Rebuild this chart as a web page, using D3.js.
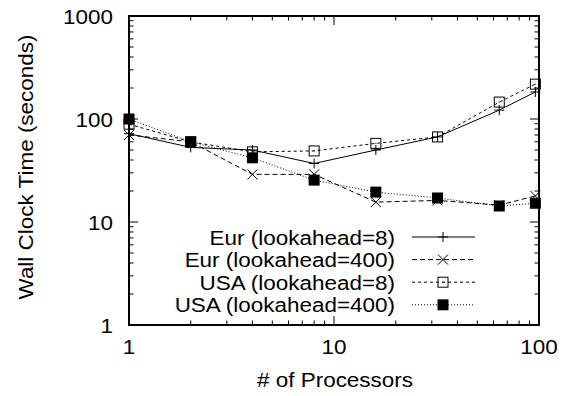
<!DOCTYPE html>
<html><head><meta charset="utf-8">
<script src="https://cdn.jsdelivr.net/npm/d3@7"></script>
<style>body{margin:0;background:#fff}svg{display:block}text{font-family:"Liberation Sans",Arial,sans-serif;fill:#000}</style>
</head><body><svg id="c" width="566" height="396"></svg>
<script>
const processors = [1, 2, 4, 8, 16, 32, 64, 96];
const eurLook8   = [72, 53, 50, 37, 50, 67, 122, 183];
const eurLook400 = [70, 60, 29, 29, 15.6, 16.2, 14.6, 17.9];
const usaLook8   = [89, 60, 48, 49, 58, 67, 146, 218];
const usaLook400 = [100, 60, 42, 25.5, 19.5, 17.1, 14.3, 15.2];
const xTicks = [1, 10, 100];
const yTicks = [1, 10, 100, 1000];
const seriesNames = ["Eur (lookahead=8)", "Eur (lookahead=400)", "USA (lookahead=8)", "USA (lookahead=400)"];

const svg = d3.select("#c");
const m = {l:129, r:539, t:16, b:325};
const x = d3.scaleLog().domain([1,100]).range([m.l, m.r]);
const y = d3.scaleLog().domain([1,1000]).range([m.b, m.t]);
const fs = 21, sx = 1.07;

function label(g, px, py, str, anchor, rot) {
  return g.append("text")
    .attr("transform", `translate(${px},${py})` + (rot ? ` rotate(${rot})` : "") + ` scale(${sx},1)`)
    .attr("text-anchor", anchor).attr("font-size", fs).text(str);
}

const series = [
  {name: seriesNames[0], vals: eurLook8, dash: null, mark: "plus"},
  {name: seriesNames[1], vals: eurLook400, dash: "5,3", mark: "cross"},
  {name: seriesNames[2], vals: usaLook8, dash: "3,3", mark: "open"},
  {name: seriesNames[3], vals: usaLook400, dash: "1,2", mark: "filled"}
];

function drawMark(g, type, cx, cy) {
  if (type === "plus") {
    g.append("path").attr("d", `M${cx-5},${cy}H${cx+5}M${cx},${cy-5}V${cy+5}`).attr("stroke","#000").attr("stroke-width",1);
  } else if (type === "cross") {
    g.append("path").attr("d", `M${cx-5},${cy-5}L${cx+5},${cy+5}M${cx-5},${cy+5}L${cx+5},${cy-5}`).attr("stroke","#000").attr("stroke-width",1);
  } else if (type === "open") {
    g.append("rect").attr("x",cx-5).attr("y",cy-5).attr("width",10).attr("height",10).attr("fill","none").attr("stroke","#000").attr("stroke-width",1);
    g.append("rect").attr("x",cx-0.5).attr("y",cy-0.5).attr("width",1).attr("height",1).attr("fill","#000");
  } else {
    g.append("rect").attr("x",cx-5.5).attr("y",cy-5.5).attr("width",11).attr("height",11).attr("fill","#000");
  }
}

// ticks
const tg = svg.append("g").attr("stroke","#000").attr("stroke-width",1);
function minorVals(dom) {
  const out = [];
  for (let d = dom[0]; d < dom[1]; d *= 10) for (let k = 1; k < 10; k++) out.push(d*k);
  out.push(dom[1]);
  return out;
}
minorVals(x.domain()).forEach(v => {
  const major = Math.abs(Math.log10(v) - Math.round(Math.log10(v))) < 1e-9;
  const len = major ? 9 : 4.5;
  const px = x(v);
  tg.append("line").attr("x1",px).attr("x2",px).attr("y1",m.b).attr("y2",m.b-len);
  tg.append("line").attr("x1",px).attr("x2",px).attr("y1",m.t).attr("y2",m.t+len);
});
minorVals(y.domain()).forEach(v => {
  const major = Math.abs(Math.log10(v) - Math.round(Math.log10(v))) < 1e-9;
  const len = major ? 9 : 4.5;
  const py = y(v);
  tg.append("line").attr("y1",py).attr("y2",py).attr("x1",m.l).attr("x2",m.l+len);
  tg.append("line").attr("y1",py).attr("y2",py).attr("x1",m.r).attr("x2",m.r-len);
});

// frame
svg.append("rect").attr("x",m.l).attr("y",m.t).attr("width",m.r-m.l).attr("height",m.b-m.t)
  .attr("fill","none").attr("stroke","#000").attr("stroke-width",2);

// tick labels
const tl = svg.append("g");
xTicks.forEach(d => label(tl, x(d), m.b + 29, d, "middle"));
yTicks.forEach(d => label(tl, m.l - 16, y(d) + 8, d, "end"));

// axis titles
label(svg, 335, 387, "# of Processors", "middle");
label(svg, 33, 167, "Wall Clock Time (seconds)", "middle", -90);

// series
const line = d3.line().x(d => x(d[0])).y(d => y(d[1]));
series.forEach(s => {
  const pts = processors.map((p,i) => [p, s.vals[i]]);
  const g = svg.append("g");
  g.append("path").attr("d", line(pts)).attr("fill","none").attr("stroke","#000").attr("stroke-width",1)
    .attr("stroke-dasharray", s.dash);
  pts.forEach(p => drawMark(g, s.mark, x(p[0]), y(p[1])));
});

// legend
const lg = svg.append("g");
series.forEach((s,i) => {
  const ly = 237 + i*22.6;
  label(lg, 395, ly + 7.5, s.name, "end");
  lg.append("line").attr("x1",412).attr("x2",475).attr("y1",ly).attr("y2",ly).attr("stroke","#000").attr("stroke-width",1).attr("stroke-dasharray", s.dash);
  drawMark(lg, s.mark, 443, ly);
});
</script></body></html>
